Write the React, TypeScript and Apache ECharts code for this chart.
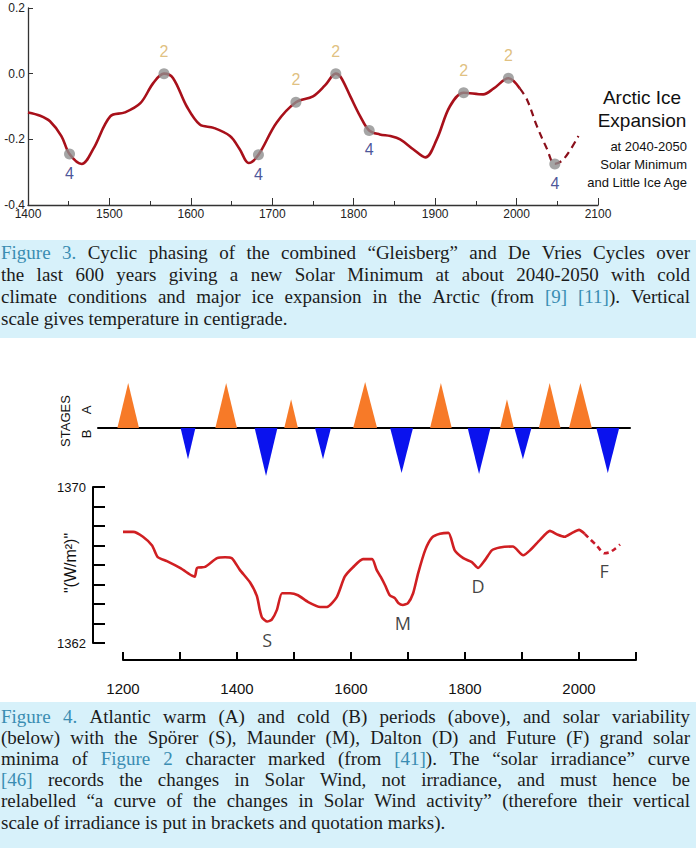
import React, { useEffect, useRef } from "react";
import * as echarts from "echarts";

// ---------- Figure 3: combined Gleisberg / De Vries cycle (temperature, °C) ----------
const FIG3_YEARS = [1400, 1415, 1427, 1441, 1451, 1466, 1480, 1501, 1519, 1538, 1554, 1567, 1578, 1595, 1611, 1628, 1648, 1660, 1671, 1683, 1705, 1729, 1750, 1765, 1778, 1784, 1796, 1808, 1819, 1832, 1845, 1857, 1873, 1888, 1902, 1918, 1935, 1959, 1972, 1990, 2004];
const FIG3_TEMPS = [-0.118, -0.128, -0.145, -0.19, -0.245, -0.275, -0.23, -0.13, -0.118, -0.09, -0.028, 0.0, -0.013, -0.1, -0.155, -0.165, -0.19, -0.23, -0.272, -0.247, -0.15, -0.087, -0.069, -0.035, 0.0, -0.01, -0.07, -0.13, -0.173, -0.185, -0.19, -0.2, -0.23, -0.255, -0.2, -0.1, -0.058, -0.063, -0.045, -0.014, -0.045];
const FIG3_FUTURE_YEARS = [2004, 2013, 2025, 2037, 2047, 2058, 2076];
const FIG3_FUTURE_TEMPS = [-0.045, -0.08, -0.16, -0.227, -0.275, -0.26, -0.19];
const PEAK_YEARS = [1567, 1729, 1778, 1935, 1990];
const PEAK_TEMPS = [0.0, -0.087, 0.0, -0.058, -0.014];
const TROUGH_YEARS = [1451, 1683, 1819, 2047];
const TROUGH_TEMPS = [-0.245, -0.247, -0.173, -0.275];

// ---------- Figure 4 (top): Atlantic warm (A, +) and cold (B, -) stages ----------
const STAGE_YEARS = [1209, 1314, 1381, 1451, 1495, 1551, 1625, 1689, 1758, 1825, 1874, 1902, 1949, 2003, 2051];
const STAGE_AMPS = [0.94, -0.65, 0.94, -1.0, 0.6, -0.65, 0.96, -0.94, 0.94, -0.96, 0.6, -0.65, 0.94, 0.94, -0.94];
const STAGE_HALF_WIDTHS = [19, 13, 19, 20, 12, 14, 21, 20, 19, 20, 12, 15, 19, 20, 20];

// ---------- Figure 4 (bottom): "solar irradiance" (W/m²) ----------
const TSI_YEARS = [1200, 1218, 1235, 1251, 1261, 1277, 1300, 1321, 1326, 1330, 1344, 1365, 1379, 1391, 1405, 1423, 1435, 1440, 1444, 1453, 1461, 1470, 1479, 1493, 1507, 1525, 1546, 1558, 1575, 1589, 1604, 1621, 1637, 1645, 1652, 1660, 1668, 1677, 1683, 1691, 1700, 1709, 1718, 1730, 1742, 1756, 1771, 1782, 1797, 1812, 1823, 1835, 1847, 1861, 1884, 1902, 1914, 1932, 1949, 1963, 1975, 1988, 2000, 2010];
const TSI_VALUES = [1367.7, 1367.7, 1367.45, 1367.0, 1366.4, 1366.2, 1365.85, 1365.45, 1365.4, 1365.85, 1365.9, 1366.35, 1366.4, 1366.35, 1365.75, 1365.1, 1364.4, 1363.7, 1363.3, 1363.1, 1363.2, 1363.7, 1364.55, 1364.55, 1364.45, 1364.1, 1363.85, 1363.85, 1364.35, 1365.4, 1365.9, 1366.3, 1366.3, 1365.75, 1365.4, 1364.95, 1364.45, 1364.3, 1364.05, 1363.95, 1364.05, 1364.55, 1365.6, 1366.75, 1367.4, 1367.6, 1367.65, 1366.75, 1366.35, 1366.15, 1365.85, 1366.25, 1366.75, 1366.9, 1366.95, 1366.5, 1366.75, 1367.3, 1367.75, 1367.55, 1367.45, 1367.65, 1367.8, 1367.6];
const TSI_FUTURE_YEARS = [2010, 2020, 2031, 2044, 2054, 2064, 2072];
const TSI_FUTURE_VALUES = [1367.6, 1367.3, 1367.0, 1366.6, 1366.65, 1366.85, 1367.05];
const MINIMA_NAMES = ["S", "M", "D", "F"];
const MINIMA_YEARS = [1453, 1691, 1823, 2044];
const MINIMA_VALUES = [1363.1, 1363.95, 1365.85, 1366.6];

// ---------- captions ----------
const TEAL = "#3a8db2";
const INK = "#1b1b1b";
type Piece = [string, string?];
const CAPTION3: Piece[][] = [
  [["Figure 3.", TEAL], [" Cyclic phasing of the combined “Gleisberg” and De Vries Cycles over"]],
  [["the last 600 years giving a new Solar Minimum at about 2040-2050 with cold"]],
  [["climate conditions and major ice expansion in the Arctic (from "], ["[9] [11]", TEAL], ["). Vertical"]],
  [["scale gives temperature in centigrade."]],
];
const CAPTION4: Piece[][] = [
  [["Figure 4.", TEAL], [" Atlantic warm (A) and cold (B) periods (above), and solar variability"]],
  [["(below) with the Spörer (S), Maunder (M), Dalton (D) and Future (F) grand solar"]],
  [["minima of "], ["Figure 2", TEAL], [" character marked (from "], ["[41]", TEAL], ["). The “solar irradiance” curve"]],
  [["[46]", TEAL], [" records the changes in Solar Wind, not irradiance, and must hence be"]],
  [["relabelled “a curve of the changes in Solar Wind activity” (therefore their vertical"]],
  [["scale of irradiance is put in brackets and quotation marks)."]],
];

const SANS = "Liberation Sans, Arial, sans-serif";
const SERIF = "Liberation Serif";
const CAP_SIZE = 19;

function zip(xs: number[], ys: number[]) {
  return xs.map((x, i) => [x, ys[i]]);
}

// Lays out one paragraph word by word so that every line but the last is justified.
function captionElements(lines: Piece[][], firstY: number, lineGap: number, left: number, right: number) {
  const ctx = document.createElement("canvas").getContext("2d")!;
  ctx.font = `${CAP_SIZE}px "${SERIF}"`;
  const out: any[] = [];
  lines.forEach((line, li) => {
    const words: { text: string; color: string }[][] = [];
    let cur: { text: string; color: string }[] = [];
    line.forEach(([text, color]) => {
      text.split(" ").forEach((part, i) => {
        if (i > 0 && cur.length) {
          words.push(cur);
          cur = [];
        }
        if (part) cur.push({ text: part, color: color || INK });
      });
    });
    if (cur.length) words.push(cur);
    const widths = words.map((w) => w.reduce((s, r) => s + ctx.measureText(r.text).width, 0));
    const total = widths.reduce((a, b) => a + b, 0);
    const isLast = li === lines.length - 1;
    const gap = isLast ? ctx.measureText(" ").width : (right - left - total) / Math.max(1, words.length - 1);
    let x = left;
    const y = firstY + li * lineGap;
    words.forEach((w, wi) => {
      let rx = x;
      w.forEach((r) => {
        out.push({
          type: "text",
          x: rx,
          y,
          silent: true,
          style: {
            text: r.text,
            fill: r.color,
            fontSize: CAP_SIZE,
            fontFamily: SERIF,
            align: "left",
            verticalAlign: "middle",
            textAlign: "left",
            textVerticalAlign: "middle",
          },
        });
        rx += ctx.measureText(r.text).width;
      });
      x += widths[wi] + gap;
    });
  });
  return out;
}

function label(text: string, x: number, y: number, size: number, align: string, color = "#111", rotation = 0, family = SANS) {
  return {
    type: "text",
    x,
    y,
    rotation,
    silent: true,
    style: {
      text,
      fill: color,
      fontSize: size,
      fontFamily: family,
      align,
      verticalAlign: "middle",
      textAlign: align,
      textVerticalAlign: "middle",
    },
  };
}

function buildOption(): any {
  const graphic: any[] = [
    { type: "rect", shape: { x: 0, y: 240, width: 696, height: 98 }, style: { fill: "#d7f1fa" }, silent: true },
    { type: "rect", shape: { x: 0, y: 702, width: 696, height: 146 }, style: { fill: "#d7f1fa" }, silent: true },
    label("Arctic Ice", 642, 97, 19, "center"),
    label("Expansion", 642, 120, 19, "center"),
    label("at 2040-2050", 687, 146, 13, "right"),
    label("Solar Minimum", 687, 164, 13, "right"),
    label("and Little Ice Age", 687, 182, 13, "right"),
    label("STAGES", 65, 421, 13, "center", "#111", Math.PI / 2),
    label("A", 86, 410, 13, "center", "#111", Math.PI / 2),
    label("B", 86, 434, 13, "center", "#111", Math.PI / 2),
    label("\"(W/m²)\"", 70, 563, 16, "center", "#111", Math.PI / 2),
    ...captionElements(CAPTION3, 252, 22, 1, 690),
    ...captionElements(CAPTION4, 716, 21.2, 1, 690),
  ];

  return {
    animation: false,
    backgroundColor: "#ffffff",
    grid: [
      { left: 28, top: 8, width: 570, height: 197 },
      { left: 98, top: 380, width: 532, height: 96 },
      { left: 123, top: 487, width: 513, height: 156 },
    ],
    xAxis: [
      {
        type: "value",
        gridIndex: 0,
        min: 1400,
        max: 2100,
        interval: 100,
        splitLine: { show: false },
        axisLine: { onZero: false, lineStyle: { color: "#333", width: 1.3 } },
        axisTick: { inside: true, length: 7, lineStyle: { color: "#333" } },
        minorTick: { show: true, splitNumber: 2, length: 4, lineStyle: { color: "#333" } },
        axisLabel: { color: "#222", fontSize: 12, fontFamily: SANS, margin: 3, formatter: (v: number) => String(v) },
      },
      {
        type: "value",
        gridIndex: 1,
        min: 1156,
        max: 2090,
        splitLine: { show: false },
        axisLine: { onZero: true, lineStyle: { color: "#000", width: 2 } },
        axisTick: { show: false },
        axisLabel: { show: false },
      },
      {
        type: "value",
        gridIndex: 2,
        min: 1200,
        max: 2100,
        interval: 100,
        offset: 17,
        splitLine: { show: false },
        axisLine: { onZero: false, lineStyle: { color: "#000", width: 2 } },
        axisTick: { inside: true, length: 8, lineStyle: { color: "#000", width: 2 } },
        axisLabel: {
          color: "#111",
          fontSize: 15,
          fontFamily: SANS,
          margin: 21,
          formatter: (v: number) => (v % 200 === 0 ? String(v) : ""),
        },
      },
    ],
    yAxis: [
      {
        type: "value",
        gridIndex: 0,
        min: -0.4,
        max: 0.2,
        interval: 0.2,
        splitLine: { show: false },
        axisLine: { show: true, onZero: false, lineStyle: { color: "#333", width: 1.3 } },
        axisTick: { show: true, inside: true, length: 5, lineStyle: { color: "#333" } },
        axisLabel: { color: "#222", fontSize: 12, fontFamily: SANS, margin: 3, formatter: (v: number) => v.toFixed(1) },
      },
      {
        type: "value",
        gridIndex: 1,
        min: -1,
        max: 1,
        show: false,
      },
      {
        type: "value",
        gridIndex: 2,
        min: 1362,
        max: 1370,
        interval: 1,
        offset: 30,
        splitLine: { show: false },
        axisLine: { show: true, onZero: false, lineStyle: { color: "#000", width: 2 } },
        axisTick: { show: true, inside: true, length: 12, lineStyle: { color: "#000", width: 2 } },
        axisLabel: {
          color: "#111",
          fontSize: 13,
          fontFamily: SANS,
          margin: 7,
          formatter: (v: number) => (v === 1362 || v === 1370 ? String(v) : ""),
        },
      },
    ],
    series: [
      {
        type: "line",
        xAxisIndex: 0,
        yAxisIndex: 0,
        data: zip(FIG3_YEARS, FIG3_TEMPS),
        smooth: 0.35,
        showSymbol: false,
        lineStyle: { color: "#a8101a", width: 2.6 },
        z: 2,
      },
      {
        type: "line",
        xAxisIndex: 0,
        yAxisIndex: 0,
        data: zip(FIG3_FUTURE_YEARS, FIG3_FUTURE_TEMPS),
        smooth: 0.35,
        showSymbol: false,
        lineStyle: { color: "#8a0f1a", width: 2.2, type: [7, 5] },
        z: 2,
      },
      {
        type: "scatter",
        xAxisIndex: 0,
        yAxisIndex: 0,
        data: zip(PEAK_YEARS, PEAK_TEMPS),
        symbolSize: 11,
        itemStyle: { color: "#8e8e8e" },
        label: { show: true, position: "top", distance: 9, formatter: "2", color: "#d8b060", fontSize: 16, fontFamily: SANS },
        z: 3,
      },
      {
        type: "scatter",
        xAxisIndex: 0,
        yAxisIndex: 0,
        data: zip(TROUGH_YEARS, TROUGH_TEMPS),
        symbolSize: 11,
        itemStyle: { color: "#8e8e8e" },
        label: { show: true, position: "bottom", distance: 6, formatter: "4", color: "#1b2a80", fontSize: 16, fontFamily: SANS },
        z: 3,
      },
      {
        type: "custom",
        xAxisIndex: 1,
        yAxisIndex: 1,
        data: STAGE_YEARS.map((y, i) => [y, STAGE_AMPS[i], STAGE_HALF_WIDTHS[i]]),
        encode: { x: 0, y: 1 },
        renderItem: (_params: any, api: any) => {
          const yr = api.value(0);
          const amp = api.value(1);
          const hw = api.value(2);
          return {
            type: "polygon",
            shape: { points: [api.coord([yr - hw, 0]), api.coord([yr, amp]), api.coord([yr + hw, 0])] },
            style: { fill: amp > 0 ? "#f77a28" : "#0a12ee" },
          };
        },
        z: 1,
      },
      {
        type: "line",
        xAxisIndex: 2,
        yAxisIndex: 2,
        data: zip(TSI_YEARS, TSI_VALUES),
        smooth: 0.2,
        showSymbol: false,
        lineStyle: { color: "#d01f22", width: 2.6 },
      },
      {
        type: "line",
        xAxisIndex: 2,
        yAxisIndex: 2,
        data: zip(TSI_FUTURE_YEARS, TSI_FUTURE_VALUES),
        smooth: 0.2,
        showSymbol: false,
        lineStyle: { color: "#c81a2a", width: 2.6, type: [5, 4] },
      },
      {
        type: "scatter",
        xAxisIndex: 2,
        yAxisIndex: 2,
        data: MINIMA_YEARS.map((y, i) => [y, MINIMA_VALUES[i], MINIMA_NAMES[i]]),
        symbolSize: 0,
        label: {
          show: true,
          position: "bottom",
          distance: 9,
          formatter: (p: any) => p.value[2],
          color: "#111",
          fontSize: 18,
          fontFamily: "Open Sans, sans-serif",
        },
      },
    ],
    graphic,
  };
}

export default function App() {
  const ref = useRef<HTMLDivElement>(null);
  useEffect(() => {
    document.body.style.margin = "0";
    const chart = echarts.init(ref.current!, null, { renderer: "svg" });
    chart.setOption(buildOption());
    return () => chart.dispose();
  }, []);
  return <div ref={ref} style={{ width: 700, height: 850, background: "#fff" }} />;
}
